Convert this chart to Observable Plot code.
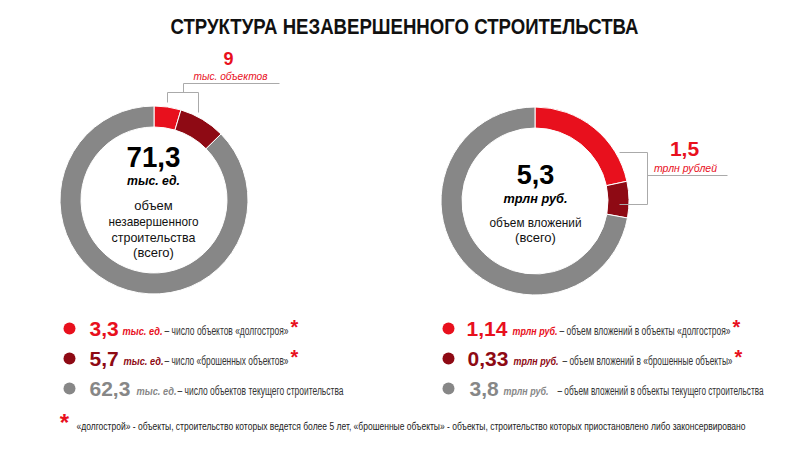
<!DOCTYPE html>
<html><head><meta charset="utf-8">
<script src="https://cdn.jsdelivr.net/npm/d3@7"></script>
<script src="https://cdn.jsdelivr.net/npm/@observablehq/plot@0.6"></script>
<style>
html,body{margin:0;padding:0;background:#fff;}
</style>
</head><body>
<div id="chart"></div>
<script>
// ---- data ----
const categories = ["долгострой", "брошенные объекты", "текущее строительство"];
const objectsValues = [3.3, 5.7, 62.3];          // тыс. ед.
const investValues = [1.14, 0.33, 3.8];          // трлн руб.
const objectsLabels = ["3,3", "5,7", "62,3"];
const investLabels = ["1,14", "0,33", "3,8"];
const objectsTotal = "71,3";
const investTotal = "5,3";
const objectsProblem = "9";
const investProblem = "1,5";
const objectsUnit = "тыс. ед.";
const investUnit = "трлн руб.";
const objectsDesc = ["– число объектов «долгостроя»", "– число «брошенных объектов»", "– число объектов текущего строительства"];
const investDesc = ["– объем вложений в объекты «долгостроя»", "– объем вложений в «брошенные объекты»", "– объем вложений в объекты текущего строительства"];
const starred = [true, true, false];
const titleText = "СТРУКТУРА НЕЗАВЕРШЕННОГО СТРОИТЕЛЬСТВА";
const footnote = "«долгострой» - объекты, строительство которых ведется более 5 лет, «брошенные объекты» - объекты, строительство которых приостановлено либо законсервировано";

// ---- style ----
const colors = ["#e8101d", "#8e0a14", "#878787"];
const SANS = "'Liberation Sans', Arial, sans-serif";

function donut(values, cx, cy, r0, r1) {
  return (index, {x, y}) => {
    const g = d3.create("svg:g").attr("transform", `translate(${x(cx)},${y(cy)})`);
    const arcs = d3.pie().sort(null)(values);
    const arc = d3.arc().innerRadius(r0).outerRadius(r1);
    g.selectAll("path").data(arcs).join("path")
      .attr("d", arc)
      .attr("fill", (d, i) => colors[i])
      .attr("stroke", "#fff").attr("stroke-width", 1);
    return g.node();
  };
}

// squeeze a text mark to a given width (emulates the narrow typeface of the original)
const fit = (widthOf) => (index, scales, values, dims, ctx, next) => {
  const g = next(index, scales, values, dims, ctx);
  d3.select(g).selectAll("text").each(function(_, k) {
    const w = widthOf(index[k]);
    if (w) d3.select(this).attr("textLength", w).attr("lengthAdjust", "spacingAndGlyphs");
  });
  return g;
};

const rowsY = [328, 358, 388];
const rows = (labels, units, descs, xs) => labels.map((v, i) => ({
  i, v, u: units, d: descs[i], y: rowsY[i], xDot: xs.dot, xV: xs.v[i], xU: xs.u[i], wU: xs.wu,
  xD: xs.d[i], wD: xs.wd[i], xS: xs.s[i], star: starred[i]
}));
const leftRows = rows(objectsLabels, objectsUnit, objectsDesc,
  {dot: 69, v: [89, 89, 89], u: [122, 123, 136], wu: 40, d: [164, 164, 177], wd: [124, 124, 166], s: [290, 290, 0]});
const rightRows = rows(investLabels, investUnit, investDesc,
  {dot: 448, v: [466, 467, 469], u: [512, 513, 503], wu: 45, d: [559, 562, 557], wd: [171, 170, 206], s: [732, 734, 0]});
const allRows = [...leftRows, ...rightRows];

const lines = [
  // left bracket
  {x1: 183, y1: 83, x2: 279, y2: 83},
  {x1: 183, y1: 83, x2: 183, y2: 92},
  {x1: 167, y1: 92, x2: 198, y2: 92},
  {x1: 167, y1: 92, x2: 167, y2: 102},
  {x1: 198, y1: 92, x2: 198, y2: 112},
  // right bracket
  {x1: 619, y1: 152, x2: 647, y2: 152},
  {x1: 647, y1: 152, x2: 647, y2: 204},
  {x1: 619, y1: 204, x2: 647, y2: 204},
  {x1: 647, y1: 175, x2: 727, y2: 175}
];

const texts = [
  {t: titleText, x: 404, y: 26, s: 22, w: "bold", st: "normal", c: "#111", len: 468},
  {t: objectsProblem, x: 228, y: 59, s: 18, w: "bold", st: "normal", c: colors[0]},
  {t: "тыс. объектов", x: 230, y: 76, s: 10.5, w: "normal", st: "italic", c: colors[0], len: 74},
  {t: objectsTotal, x: 153, y: 157, s: 30, w: "bold", st: "normal", c: "#000", len: 54},
  {t: objectsUnit, x: 153, y: 180, s: 13, w: "bold", st: "italic", c: "#000", len: 53},
  {t: "объем", x: 153, y: 205, s: 13, w: "normal", st: "normal", c: "#111"},
  {t: "незавершенного", x: 153, y: 221, s: 13, w: "normal", st: "normal", c: "#111", len: 90},
  {t: "строительства", x: 153, y: 237, s: 13, w: "normal", st: "normal", c: "#111", len: 84},
  {t: "(всего)", x: 153, y: 252, s: 13, w: "normal", st: "normal", c: "#111"},
  {t: investTotal, x: 535, y: 175, s: 27, w: "bold", st: "normal", c: "#000"},
  {t: investUnit, x: 535, y: 198, s: 13, w: "bold", st: "italic", c: "#000", len: 64},
  {t: "объем вложений", x: 535, y: 222, s: 13, w: "normal", st: "normal", c: "#111", len: 92},
  {t: "(всего)", x: 535, y: 237, s: 13, w: "normal", st: "normal", c: "#111"},
  {t: investProblem, x: 684, y: 149, s: 21, w: "bold", st: "normal", c: colors[0]},
  {t: "трлн рублей", x: 685, y: 168, s: 10.5, w: "normal", st: "italic", c: colors[0], len: 63}
];

const chart = Plot.plot({
  width: 800, height: 450,
  margin: 0,
  style: {background: "#fff", overflow: "visible"},
  x: {domain: [0, 800], range: [0, 800], axis: null},
  y: {domain: [0, 450], range: [0, 450], axis: null},
  marks: [
    donut(objectsValues, 154, 200, 73, 94),
    donut(investValues, 535, 201, 73, 94),
    Plot.link(lines, {x1: "x1", y1: "y1", x2: "x2", y2: "y2", stroke: "#aaa", strokeWidth: 1}),
    ...texts.map(d => Plot.text([d], {x: "x", y: "y", text: "t", fontSize: d.s, fontWeight: d.w, fontStyle: d.st, fill: d.c,
      fontFamily: SANS, textAnchor: "middle", lineAnchor: "middle", render: fit(() => d.len)})),
    // legend dots
    Plot.dot(allRows, {x: "xDot", y: "y", r: 6, fill: d => colors[d.i], stroke: null}),
    // values
    Plot.text(allRows, {x: "xV", y: d => d.y + 7, text: "v", fill: d => colors[d.i], fontSize: 21, fontWeight: "bold", fontFamily: SANS, textAnchor: "start", lineAnchor: "bottom"}),
    Plot.text(allRows, {x: "xU", y: d => d.y + 6, text: "u", fill: d => colors[d.i], fontSize: 11.5, fontWeight: "bold", fontStyle: "italic", fontFamily: SANS, textAnchor: "start", lineAnchor: "bottom", render: fit(i => allRows[i].wU)}),
    Plot.text(allRows, {x: "xD", y: d => d.y + 6, text: "d", fill: "#333", fontSize: 12, fontFamily: SANS, textAnchor: "start", lineAnchor: "bottom", render: fit(i => allRows[i].wD)}),
    Plot.text(allRows.filter(d => d.star), {x: "xS", y: d => d.y - 1, text: () => "*", fill: colors[0], fontSize: 20, fontWeight: "bold", fontFamily: SANS, textAnchor: "start", lineAnchor: "middle"}),
    // footnote
    Plot.text(["*"], {x: 64, y: 423, text: d => d, fill: colors[0], fontSize: 24, fontWeight: "bold", fontFamily: SANS, textAnchor: "middle", lineAnchor: "middle"}),
    Plot.text([footnote], {x: 76, y: 426, text: d => d, fill: "#222", fontSize: 11, fontFamily: SANS, textAnchor: "start", lineAnchor: "middle", render: fit(() => 669)})
  ]
});
document.getElementById("chart").appendChild(chart);
</script>
</body></html>
